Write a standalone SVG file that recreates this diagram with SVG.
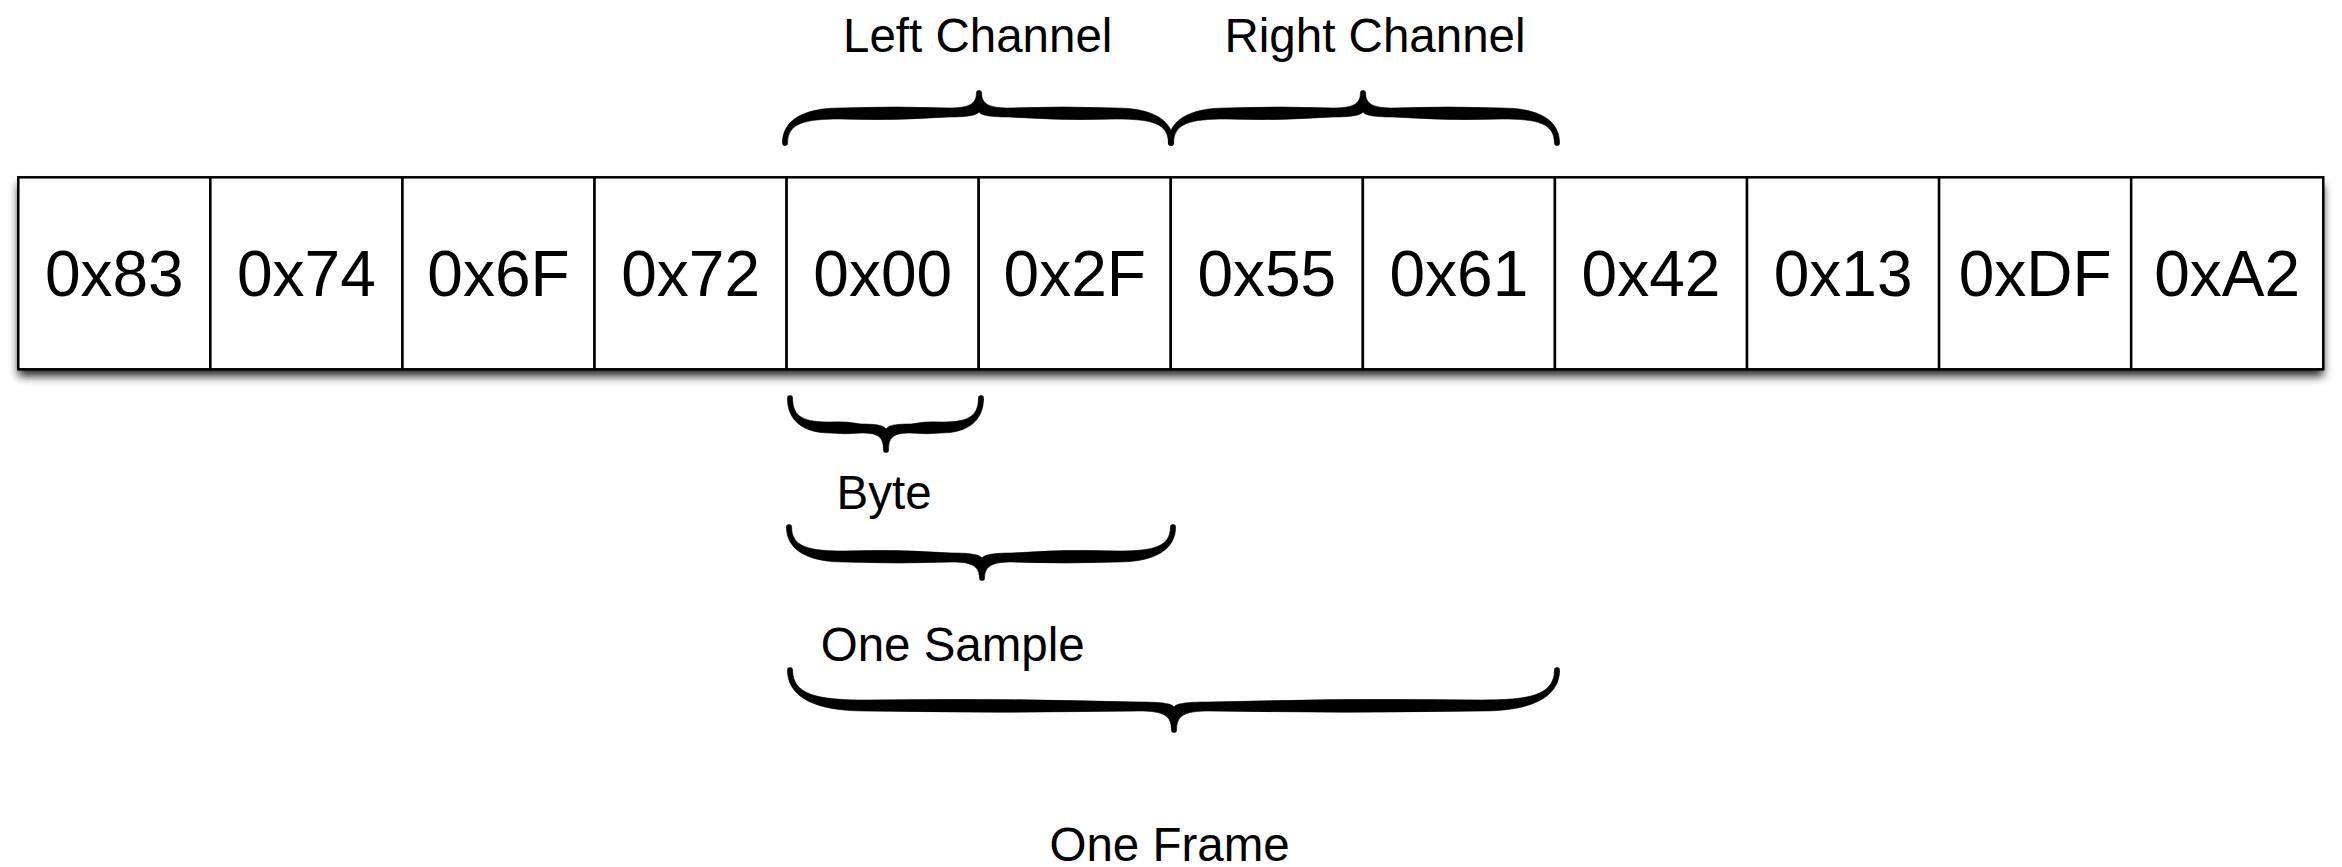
<svg xmlns="http://www.w3.org/2000/svg" width="2342" height="867" viewBox="0 0 2342 867">
  <defs>
    <filter id="rowShadow" x="-5%" y="-30%" width="110%" height="170%">
      <feDropShadow dx="0" dy="7" stdDeviation="5" flood-color="#000" flood-opacity="0.85"/>
    </filter>
    <style>
      .cell { fill: #fff; stroke: #000; stroke-width: 2.5; }
      .byte { font-family: "Liberation Sans", Arial, sans-serif; font-size: 64px; fill: #000; text-anchor: middle; }
      .label { font-family: "Liberation Sans", Arial, sans-serif; font-size: 47.5px; fill: #000; }
      .brace { fill: #000; stroke: #000; stroke-width: 0.6; }
    </style>
  </defs>

  <rect width="2342" height="867" fill="#fff"/>

  <!-- shadowed backing strip for the byte row -->
  <rect x="18.3" y="177.3" width="2305" height="192" fill="#fff" filter="url(#rowShadow)"/>

  <!-- byte cells -->
  <g id="bytes">
    <g id="b0"><rect class="cell" x="18.3" y="177.3" width="192.08" height="192"/><text class="byte" x="114.3" y="296">0x83</text></g>
    <g id="b1"><rect class="cell" x="210.38" y="177.3" width="192.08" height="192"/><text class="byte" x="306.4" y="296">0x74</text></g>
    <g id="b2"><rect class="cell" x="402.46" y="177.3" width="192.08" height="192"/><text class="byte" x="498.5" y="296">0x6F</text></g>
    <g id="b3"><rect class="cell" x="594.54" y="177.3" width="192.08" height="192"/><text class="byte" x="690.6" y="296">0x72</text></g>
    <g id="b4"><rect class="cell" x="786.62" y="177.3" width="192.08" height="192"/><text class="byte" x="882.7" y="296">0x00</text></g>
    <g id="b5"><rect class="cell" x="978.7" y="177.3" width="192.08" height="192"/><text class="byte" x="1074.7" y="296">0x2F</text></g>
    <g id="b6"><rect class="cell" x="1170.78" y="177.3" width="192.08" height="192"/><text class="byte" x="1266.8" y="296">0x55</text></g>
    <g id="b7"><rect class="cell" x="1362.86" y="177.3" width="192.08" height="192"/><text class="byte" x="1458.9" y="296">0x61</text></g>
    <g id="b8"><rect class="cell" x="1554.94" y="177.3" width="192.08" height="192"/><text class="byte" x="1651" y="296">0x42</text></g>
    <g id="b9"><rect class="cell" x="1747.02" y="177.3" width="192.08" height="192"/><text class="byte" x="1843.1" y="296">0x13</text></g>
    <g id="b10"><rect class="cell" x="1939.1" y="177.3" width="192.08" height="192"/><text class="byte" x="2035.1" y="296">0xDF</text></g>
    <g id="b11"><rect class="cell" x="2131.18" y="177.3" width="192.08" height="192"/><text class="byte" x="2227.2" y="296">0xA2</text></g>
  </g>

  <!-- curly braces grouping byte ranges -->
  <g id="braces">
    <path id="brace-left" class="brace" transform="translate(0,143) scale(1,-1)" d="M 782.4,0 C 782.4,22.5 803,35 840,35 Q 895,37 949,35 C 969,35 976.4,39 976.4,50 A 2.6 2.6 0 0 0 981.6,50 C 981.6,39 989,35 1009,35 Q 1062,37 1116,35 C 1153,35 1173.6,22.5 1173.6,0 A 2.6 2.6 0 0 0 1168.4,0 C 1168.4,20 1151,24 1116,24 Q 1062,22 1009,26 C 989,26 981,28 979,31 C 977,28 969,26 949,26 Q 895,22 840,24 C 805,24 787.6,20 787.6,0 A 2.6 2.6 0 0 0 782.4,0 Z"/>
    <path id="brace-right" class="brace" transform="translate(0,143) scale(1,-1)" d="M 1168.4,0 C 1168.4,22.5 1189,35 1226,35 Q 1280,37 1333,35 C 1353,35 1360.4,39 1360.4,50 A 2.6 2.6 0 0 0 1365.6,50 C 1365.6,39 1373,35 1393,35 Q 1448,37 1502,35 C 1539,35 1559.6,22.5 1559.6,0 A 2.6 2.6 0 0 0 1554.4,0 C 1554.4,20 1537,24 1502,24 Q 1448,22 1393,26 C 1373,26 1365,28 1363,31 C 1361,28 1353,26 1333,26 Q 1280,22 1226,24 C 1191,24 1173.6,20 1173.6,0 A 2.6 2.6 0 0 0 1168.4,0 Z"/>
    <path id="brace-byte" class="brace" transform="translate(0,398)" d="M 787.4,0 C 787.4,22.5 803,35 830,35 Q 846,36.5 861,35 C 879,35 883.4,39 883.4,52 A 2.6 2.6 0 0 0 888.6,52 C 888.6,39 893,35 911,35 Q 926,36.5 941,35 C 968,35 983.6,22.5 983.6,0 A 2.6 2.6 0 0 0 978.4,0 C 978.4,20 966,24 941,24 Q 926,23 911,26 C 893,26 888,28 886,31 C 884,28 879,26 861,26 Q 846,23 830,24 C 805,24 792.6,20 792.6,0 A 2.6 2.6 0 0 0 787.4,0 Z"/>
    <path id="brace-sample" class="brace" transform="translate(0,527)" d="M 786.4,0 C 786.4,22.5 807,35 844,35 Q 898,37 952,35 C 972,35 979.4,39 979.4,51 A 2.6 2.6 0 0 0 984.6,51 C 984.6,39 992,35 1012,35 Q 1065,37 1118,35 C 1155,35 1175.6,22.5 1175.6,0 A 2.6 2.6 0 0 0 1170.4,0 C 1170.4,20 1153,24 1118,24 Q 1065,22 1012,26 C 992,26 984,28 982,31 C 980,28 972,26 952,26 Q 898,22 844,24 C 809,24 791.6,20 791.6,0 A 2.6 2.6 0 0 0 786.4,0 Z"/>
    <path id="brace-frame" class="brace" transform="translate(0,670)" d="M 787.4,0 C 787.4,27 815,41 865,41 Q 1002,43.5 1139,41 C 1165,41 1171.4,46 1171.4,60 A 2.6 2.6 0 0 0 1176.6,60 C 1176.6,46 1183,41 1209,41 Q 1345,43.5 1482,41 C 1532,41 1559.6,27 1559.6,0 A 2.6 2.6 0 0 0 1554.4,0 C 1554.4,25 1530,30 1482,30 Q 1345,28 1209,32 C 1183,32 1176,34 1174,37 C 1172,34 1165,32 1139,32 Q 1002,28 865,30 C 818,30 792.6,25 792.6,0 A 2.6 2.6 0 0 0 787.4,0 Z"/>
  </g>

  <!-- range labels -->
  <g id="label-left"><text class="label" x="843" y="51.5">Left Channel</text></g>
  <g id="label-right"><text class="label" x="1224.5" y="51.5">Right Channel</text></g>
  <g id="label-byte"><text class="label" x="836.5" y="509">Byte</text></g>
  <g id="label-sample"><text class="label" x="820.7" y="661">One Sample</text></g>
  <g id="label-frame"><text class="label" x="1049.5" y="861">One Frame</text></g>
</svg>
